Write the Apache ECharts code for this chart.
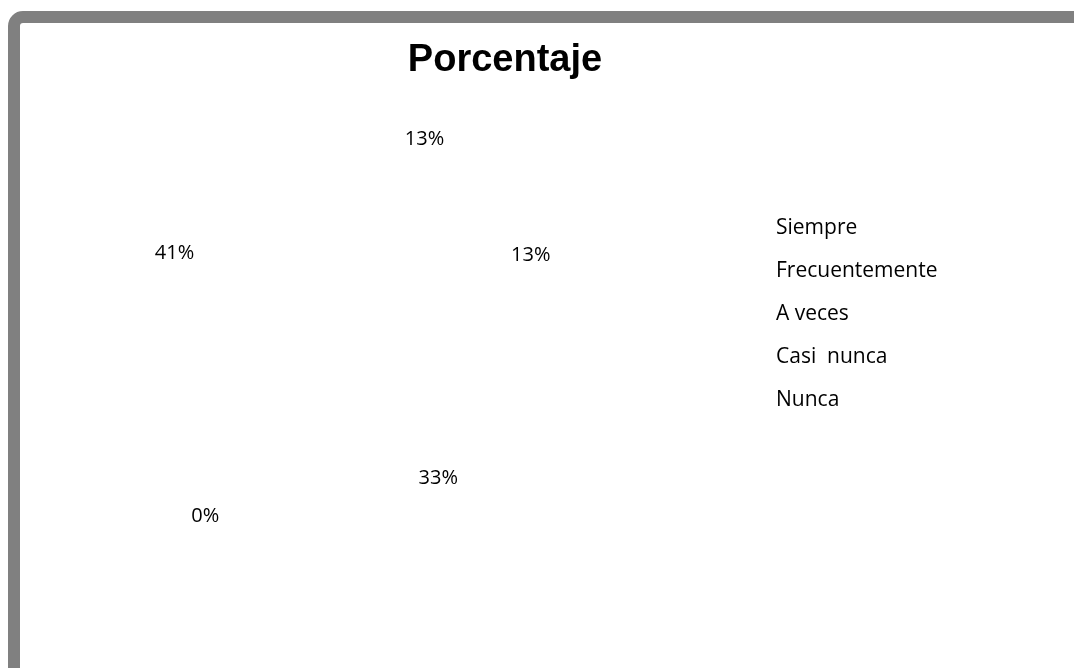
<!DOCTYPE html>
<html>
<head>
<meta charset="utf-8">
<script src="https://cdn.jsdelivr.net/npm/echarts@6/dist/echarts.min.js"></script>
<style>
html,body{margin:0;padding:0;background:#fff;}
#c{width:1074px;height:668px;}
</style>
</head>
<body>
<div id="c"></div>
<script>
var categories = ['Siempre', 'Frecuentemente', 'A veces', 'Casi  nunca', 'Nunca'];
var values = [13, 13, 33, 0, 41];
var titleText = 'Porcentaje';

// label nudges (style only) to mimic the spreadsheet "best fit" placement
var labelNudge = {0: [-5, 4], 1: [-2, 10], 2: [-2, -1], 3: [-47, 46], 4: [3, -4]};

var chart = echarts.init(document.getElementById('c'), null, {renderer: 'canvas'});
var data = categories.map(function (n, i) {
  return {name: n, value: values[i]};
});
chart.setOption({
  animation: false,
  backgroundColor: '#fff',
  title: {
    text: titleText,
    left: 500,
    top: 37,
    textAlign: 'center',
    textStyle: {fontFamily: 'Liberation Sans', fontWeight: 'bold', fontSize: 38, color: '#000', lineHeight: 38}
  },
  legend: {
    orient: 'vertical',
    left: 765,
    top: 213,
    itemWidth: 1,
    itemHeight: 20,
    itemGap: 22,
    icon: 'rect',
    selectedMode: false,
    itemStyle: {opacity: 0},
    textStyle: {fontFamily: 'Open Sans', fontSize: 21, color: '#000', lineHeight: 20},
    data: categories
  },
  graphic: [{
    type: 'rect',
    silent: true,
    shape: {x: 14, y: 17, width: 1200, height: 900, r: 9},
    style: {fill: 'none', stroke: '#808080', lineWidth: 12}
  }],
  series: [{
    type: 'pie',
    center: [354, 310],
    radius: [0, 374],
    startAngle: 90,
    clockwise: true,
    percentPrecision: 0,
    silent: true,
    itemStyle: {color: 'rgba(0,0,0,0)', borderWidth: 0},
    emphasis: {disabled: true},
    label: {
      show: true,
      position: 'inside',
      formatter: '{d}%',
      fontFamily: 'Open Sans',
      fontSize: 20,
      color: '#000'
    },
    labelLine: {show: false},
    labelLayout: function (p) {
      var n = labelNudge[p.dataIndex];
      return n ? {dx: n[0], dy: n[1]} : {};
    },
    data: data
  }]
});
</script>
</body>
</html>
